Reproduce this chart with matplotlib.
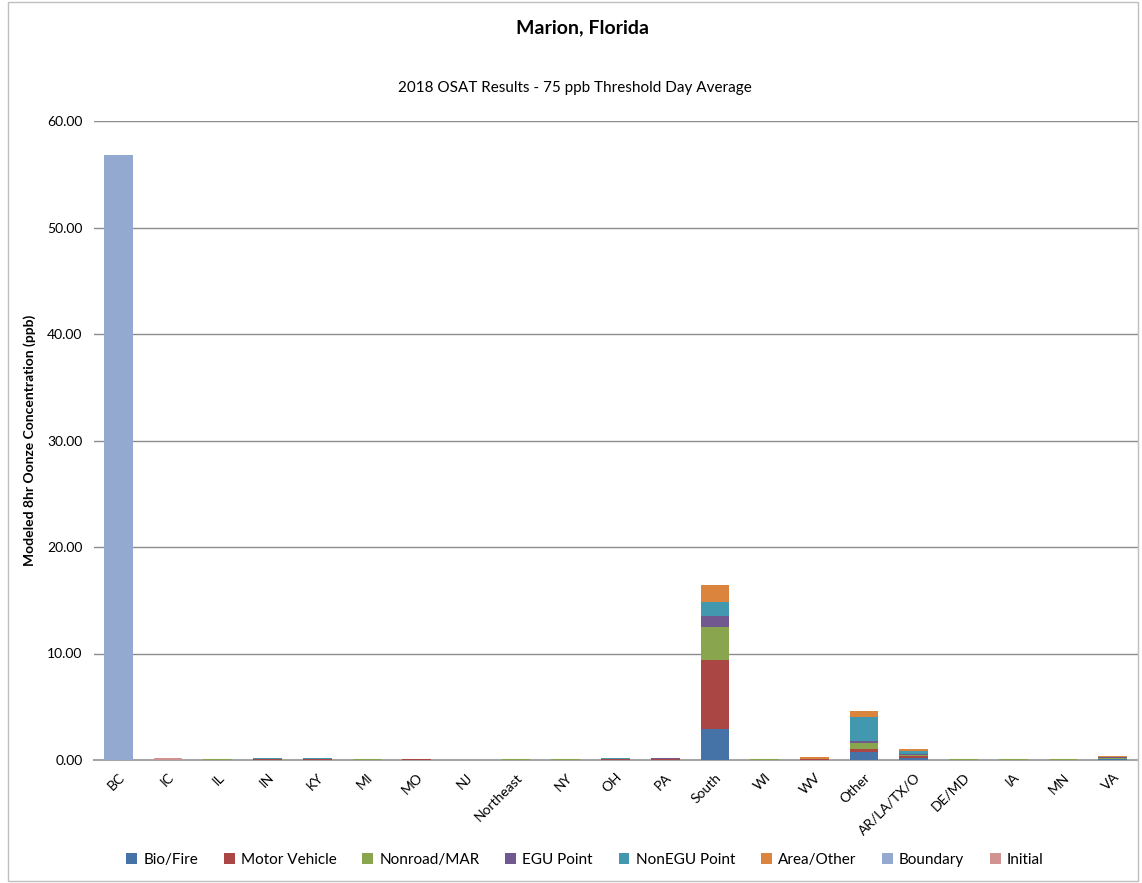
import numpy as np
import matplotlib
matplotlib.use('Agg')
import matplotlib.pyplot as plt
from matplotlib.patches import Rectangle

plt.rcParams['font.family'] = ['Lato', 'DejaVu Sans']

categories = ['BC', 'IC', 'IL', 'IN', 'KY', 'MI', 'MO', 'NJ', 'Northeast', 'NY', 'OH',
              'PA', 'South', 'WI', 'WV', 'Other', 'AR/LA/TX/O', 'DE/MD', 'IA', 'MN', 'VA']

# source contributions (ppb) per region
bio_fire = [0, 0, 0.01, 0.02, 0.02, 0.01, 0.02, 0.005, 0.01, 0.01, 0.02, 0.02, 2.88, 0.01, 0.02, 0.78, 0.20, 0.01, 0.02, 0.02, 0.05]
motor_vehicle = [0, 0, 0.03, 0.04, 0.04, 0.02, 0.03, 0.01, 0.02, 0.02, 0.04, 0.05, 6.51, 0.02, 0.03, 0.28, 0.15, 0.02, 0.02, 0.02, 0.08]
nonroad = [0, 0, 0.02, 0.03, 0.03, 0.02, 0.02, 0.01, 0.02, 0.02, 0.03, 0.04, 3.07, 0.02, 0.02, 0.54, 0.15, 0.02, 0.01, 0.01, 0.10]
egu_point = [0, 0, 0.03, 0.04, 0.05, 0.02, 0.02, 0.005, 0.02, 0.02, 0.04, 0.05, 1.09, 0.02, 0.04, 0.19, 0.08, 0.01, 0.02, 0.02, 0.05]
nonegu_point = [0, 0, 0.02, 0.03, 0.03, 0.02, 0.02, 0.005, 0.01, 0.01, 0.03, 0.03, 1.29, 0.01, 0.03, 2.28, 0.25, 0.01, 0.02, 0.02, 0.04]
area_other = [0, 0, 0.01, 0.02, 0.02, 0.01, 0.01, 0.01, 0.01, 0.01, 0.02, 0.03, 1.57, 0.01, 0.12, 0.56, 0.20, 0.01, 0.01, 0.01, 0.04]
boundary = [56.8] + [0] * 20
initial = [0, 0.2] + [0] * 19

series = [
    ('Bio/Fire', bio_fire, '#4572A7'),
    ('Motor Vehicle', motor_vehicle, '#AA4643'),
    ('Nonroad/MAR', nonroad, '#89A54E'),
    ('EGU Point', egu_point, '#71588F'),
    ('NonEGU Point', nonegu_point, '#4198AF'),
    ('Area/Other', area_other, '#DB843D'),
    ('Boundary', boundary, '#93A9CF'),
    ('Initial', initial, '#D19392'),
]

fig = plt.figure(figsize=(11.42, 8.83), dpi=100)
ax = fig.add_axes([93.5 / 1142, 123 / 883, 1044 / 1142, 639 / 883])

x = np.arange(len(categories))
bottom = np.zeros(len(categories))
handles = []
for name, vals, col in series:
    vals = np.array(vals, dtype=float)
    b = ax.bar(x, vals, bottom=bottom, width=0.58, color=col, label=name, zorder=3)
    handles.append(b)
    bottom += vals

ax.set_xlim(-0.5, len(categories) - 0.5)
ax.set_ylim(0, 60)
ax.set_yticks(np.arange(0, 61, 10))
ax.set_yticklabels([f'{v:.2f}' for v in np.arange(0, 61, 10)], fontsize=10)
ax.set_xticks(x)
ax.set_xticklabels(categories, rotation=45, ha='right', rotation_mode='anchor', fontsize=10)
ax.tick_params(axis='both', length=0, pad=8)
ax.yaxis.grid(True, color='#8c8c8c', linewidth=1, zorder=0)
ax.set_axisbelow(True)
for side in ['left', 'right', 'top']:
    ax.spines[side].set_visible(False)
ax.spines['bottom'].set_color('#a6a6a6')
ax.spines['bottom'].set_linewidth(1.5)

fig.text(0.026, ax.get_position().y0 + ax.get_position().height / 2,
         'Modeled 8hr Oonze Concentration (ppb)', rotation=90, fontsize=10,
         fontweight='bold', ha='center', va='center')
fig.text(582 / 1142, 1 - 28 / 883, 'Marion, Florida', fontsize=14, fontweight='bold',
         ha='center', va='center')
fig.text(575 / 1142, 1 - 88 / 883, '2018 OSAT Results - 75 ppb Threshold Day Average',
         fontsize=11, ha='center', va='center')

fig.legend(handles, [s[0] for s in series], loc='center', bbox_to_anchor=(585 / 1142, 23 / 883),
           ncol=8, frameon=False, fontsize=11, handlelength=0.7, handleheight=0.7,
           handletextpad=0.4, columnspacing=1.7)

fig.patches.append(Rectangle((8 / 1142, 2 / 883), 1130 / 1142, 879 / 883, transform=fig.transFigure,
                             fill=False, edgecolor='#bfbfbf', linewidth=1))

fig.savefig('out.png', dpi=100)
